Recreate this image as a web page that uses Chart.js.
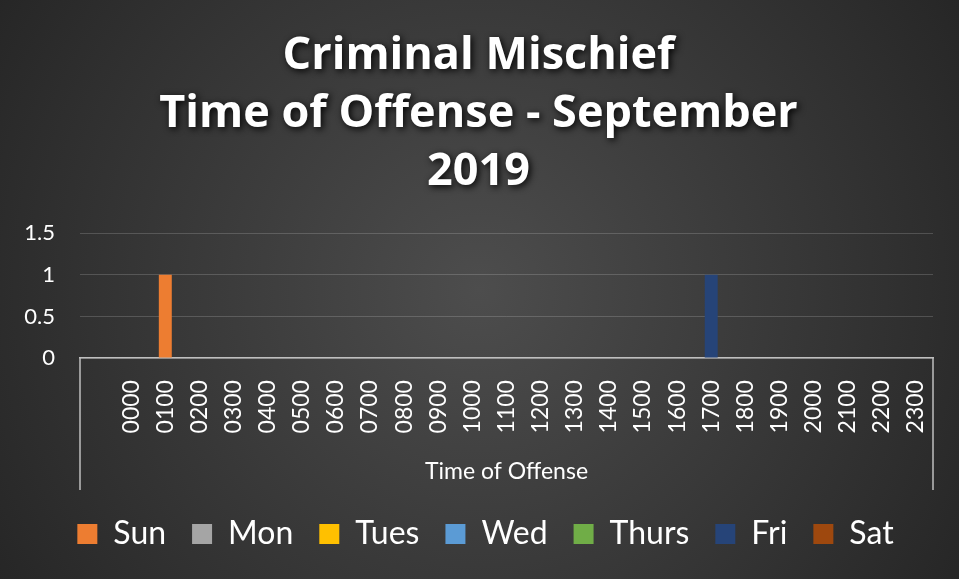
<!DOCTYPE html>
<html><head><meta charset="utf-8">
<script src="https://cdn.jsdelivr.net/npm/chart.js@4.4.1/dist/chart.umd.min.js"></script>
<style>html,body{margin:0;padding:0;background:#2a2a2a;}canvas{display:block;}</style>
</head><body>
<canvas id="c" width="959" height="579"></canvas>
<script>
const titleLines = ['Criminal Mischief', 'Time of Offense - September', '2019'];
const xAxisTitle = 'Time of Offense';
const categories = ['', '0000','0100','0200','0300','0400','0500','0600','0700','0800','0900','1000','1100',
  '1200','1300','1400','1500','1600','1700','1800','1900','2000','2100','2200','2300'];
const seriesNames = ['Sun','Mon','Tues','Wed','Thurs','Fri','Sat'];
const sunValues   = [0,0,1,0,0,0,0,0,0,0,0,0,0,0,0,0,0,0,0,0,0,0,0,0,0];
const monValues   = [0,0,0,0,0,0,0,0,0,0,0,0,0,0,0,0,0,0,0,0,0,0,0,0,0];
const tuesValues  = [0,0,0,0,0,0,0,0,0,0,0,0,0,0,0,0,0,0,0,0,0,0,0,0,0];
const wedValues   = [0,0,0,0,0,0,0,0,0,0,0,0,0,0,0,0,0,0,0,0,0,0,0,0,0];
const thursValues = [0,0,0,0,0,0,0,0,0,0,0,0,0,0,0,0,0,0,0,0,0,0,0,0,0];
const friValues   = [0,0,0,0,0,0,0,0,0,0,0,0,0,0,0,0,0,0,1,0,0,0,0,0,0];
const satValues   = [0,0,0,0,0,0,0,0,0,0,0,0,0,0,0,0,0,0,0,0,0,0,0,0,0];
const yTicks = [0, 0.5, 1, 1.5];
const seriesColors = ['#ED7D31','#A5A5A5','#FFC000','#5B9BD5','#70AD47','#264478','#9E480E'];

const allValues = [sunValues, monValues, tuesValues, wedValues, thursValues, friValues, satValues];

const bgPlugin = {
  id: 'bg',
  beforeDraw(chart) {
    const ctx = chart.ctx, w = chart.width, h = chart.height;
    ctx.save();
    const g = ctx.createRadialGradient(w * 0.5, h * 0.5, 0, w * 0.5, h * 0.5, w * 0.62);
    g.addColorStop(0, '#4d4d4d');
    g.addColorStop(1, '#242424');
    ctx.fillStyle = g;
    ctx.fillRect(0, 0, w, h);
    ctx.restore();
  }
};

const titleShadow = {
  id: 'titleShadow',
  afterLayout(chart) {
    const t = chart.titleBlock;
    if (t && !t._shadowWrapped) {
      const orig = t.draw;
      t.draw = function () {
        const ctx = chart.ctx;
        ctx.save();
        ctx.shadowColor = 'rgba(0,0,0,0.95)';
        ctx.shadowBlur = 7;
        ctx.shadowOffsetX = 2;
        ctx.shadowOffsetY = 2;
        orig.apply(this, arguments);
        ctx.restore();
      };
      t._shadowWrapped = true;
    }
    const lg = chart.legend;
    if (lg) { lg.left += 7; lg.right += 7; }
  }
};

const axisBox = {
  id: 'axisBox',
  afterDraw(chart) {
    const x = chart.scales.x, y = chart.scales.y;
    const top = y.getPixelForValue(0);
    const bottom = x.bottom - 2;
    const ctx = chart.ctx;
    ctx.save();
    ctx.strokeStyle = '#bfbfbf';
    ctx.lineWidth = 1.5;
    ctx.beginPath();
    ctx.moveTo(x.left, top); ctx.lineTo(x.left, bottom);
    ctx.moveTo(x.right, top); ctx.lineTo(x.right, bottom);
    ctx.stroke();
    ctx.restore();
  }
};

new Chart(document.getElementById('c'), {
  type: 'bar',
  data: {
    labels: categories,
    datasets: seriesNames.map((n, i) => ({
      label: n,
      data: allValues[i],
      backgroundColor: seriesColors[i],
      borderWidth: 0,
      barPercentage: 0.38,
      categoryPercentage: 1
    }))
  },
  options: {
    responsive: false,
    animation: false,
    devicePixelRatio: 1,
    layout: { padding: { left: 24, right: 26, top: 27, bottom: 19 } },
    plugins: {
      title: {
        display: true, text: titleLines, color: '#ffffff',
        font: { family: "'Open Sans', sans-serif", size: 45, weight: 'bold', lineHeight: 1.29 },
        padding: { top: 0, bottom: 32 }
      },
      legend: {
        position: 'bottom',
        labels: { color: '#ffffff', font: { family: 'Lato, sans-serif', size: 32 }, boxWidth: 20, boxHeight: 20, padding: 26 }
      },
      tooltip: { enabled: false }
    },
    scales: {
      x: {
        stacked: true,
        afterFit(scale) { scale.paddingLeft = 0; scale.paddingRight = 0; },
        grid: { display: false, drawTicks: false },
        border: { display: true, color: '#bfbfbf', width: 1.5 },
        ticks: { color: '#ffffff', font: { family: 'Lato, sans-serif', size: 23 }, maxRotation: 90, minRotation: 90, padding: 22, autoSkip: false },
        title: { display: true, text: xAxisTitle, color: '#ffffff', font: { family: 'Lato, sans-serif', size: 23 }, padding: { top: 2, bottom: 7 } }
      },
      y: {
        stacked: true, min: 0, max: 1.5,
        afterBuildTicks(scale) { scale.ticks = yTicks.map(v => ({ value: v })); },
        afterFit(scale) { scale.width = 56; },
        ticks: { color: '#ffffff', font: { family: 'Lato, sans-serif', size: 22 }, padding: 25, callback: v => String(v) },
        grid: { color: 'rgba(255,255,255,0.17)', drawTicks: false, lineWidth: 1 },
        border: { display: false }
      }
    }
  },
  plugins: [bgPlugin, titleShadow, axisBox]
});
</script>
</body></html>
